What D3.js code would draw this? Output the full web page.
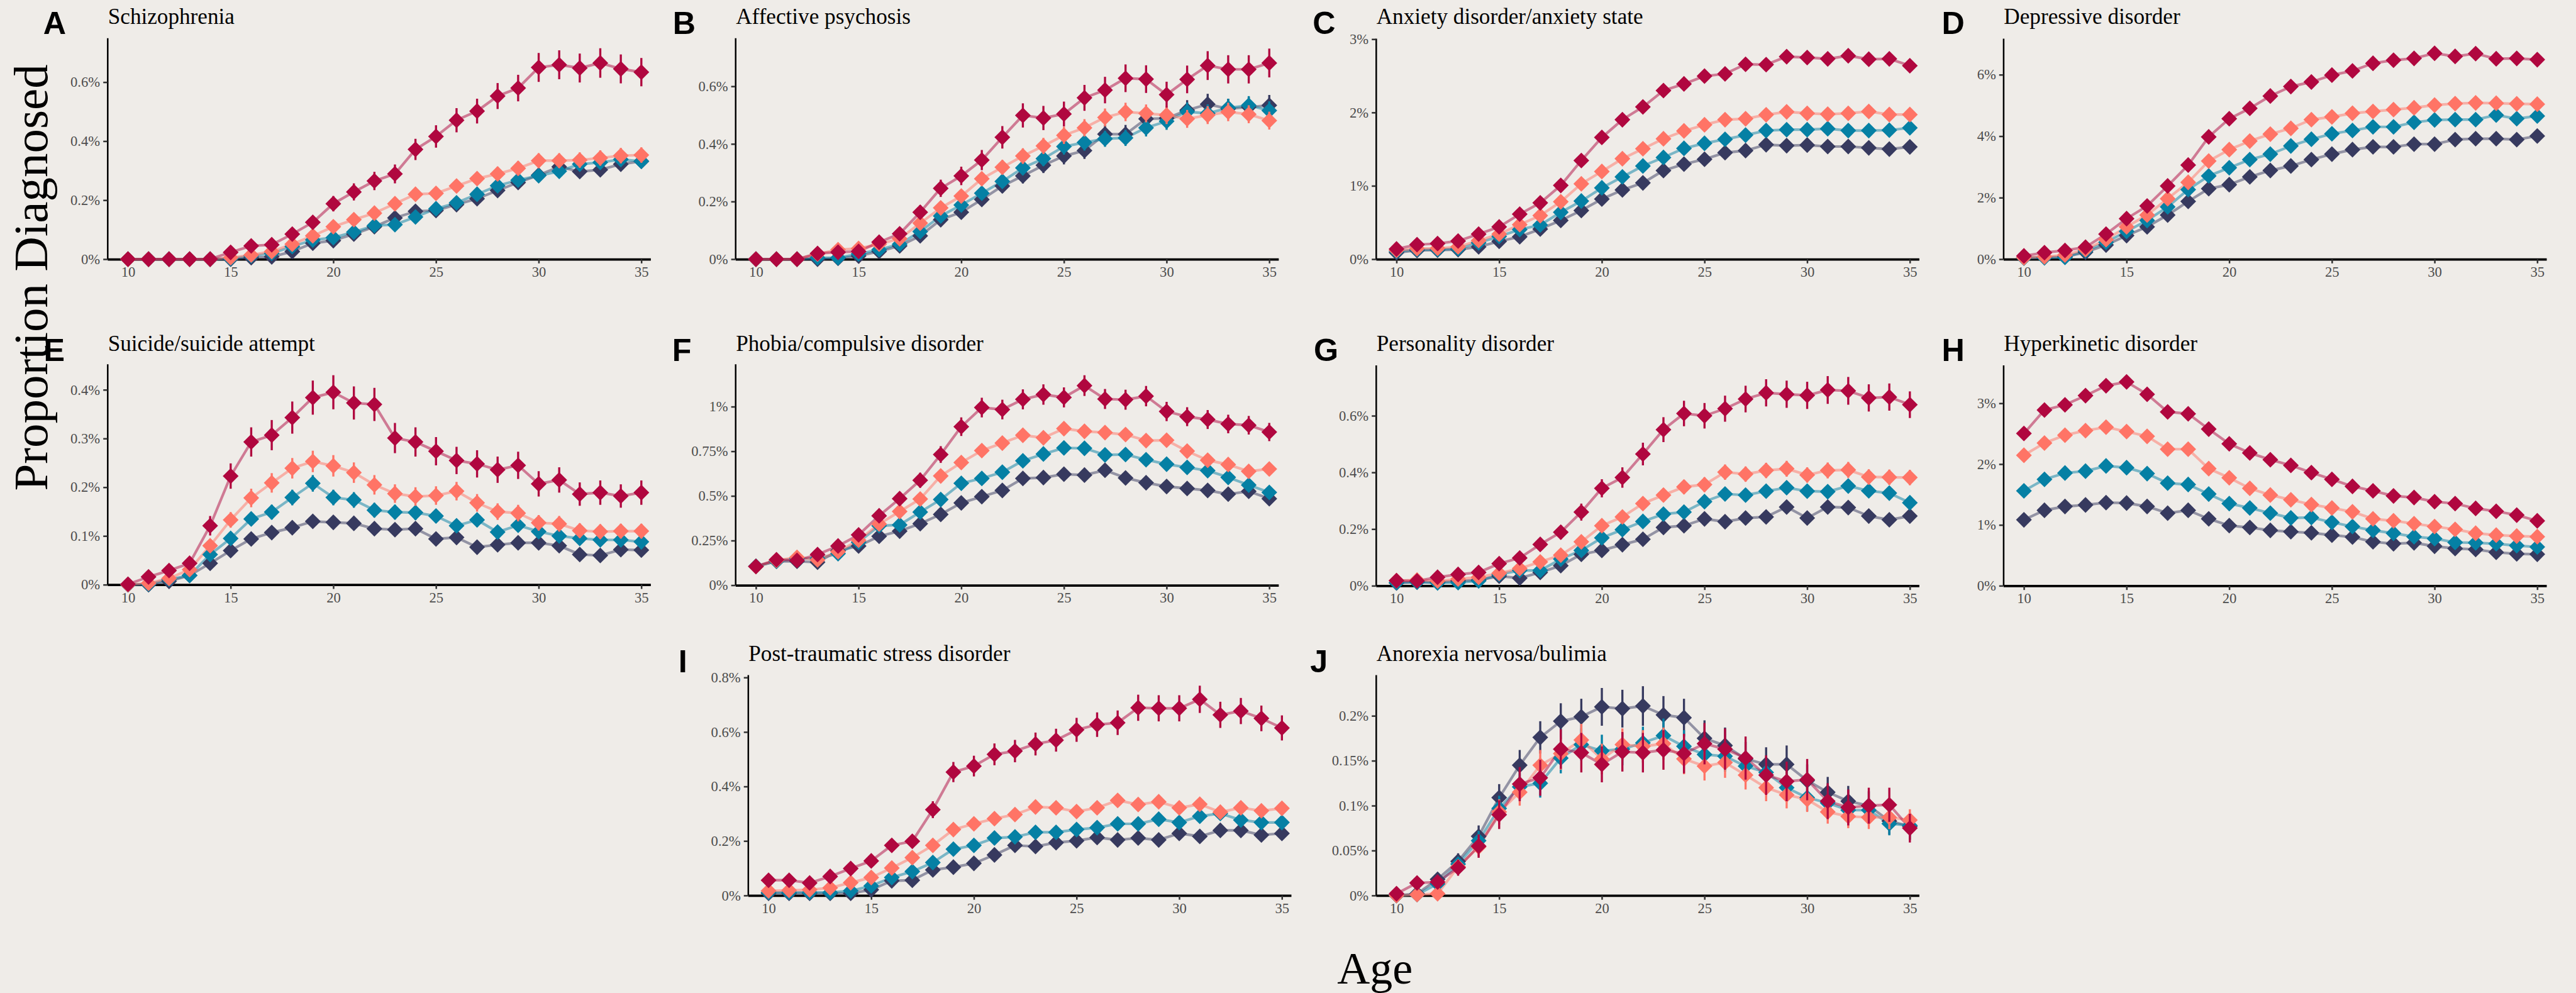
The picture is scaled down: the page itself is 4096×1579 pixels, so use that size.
<!DOCTYPE html>
<html>
<head>
<meta charset="utf-8">
<script src="https://cdnjs.cloudflare.com/ajax/libs/d3/7.8.5/d3.min.js"></script>
<style>
  body { margin: 0; background: #efece8; }
  svg { display: block; }
</style>
</head>
<body>
<svg id="chart"></svg>
<script>
// ---- data ----------------------------------------------------------------
const ages = [10, 11, 12, 13, 14, 15, 16, 17, 18, 19, 20, 21, 22, 23, 24, 25, 26, 27, 28, 29, 30, 31, 32, 33, 34, 35];
const xTicks = [10, 15, 20, 25, 30, 35];
// series order: navy, teal, salmon, crimson
const seriesColors = ['#373a5f', '#0580a4', '#ff7466', '#b0073f'];
const panelLetters = ['A', 'B', 'C', 'D', 'E', 'F', 'G', 'H', 'I', 'J'];
const panelTitles = ['Schizophrenia', 'Affective psychosis', 'Anxiety disorder/anxiety state', 'Depressive disorder',
  'Suicide/suicide attempt', 'Phobia/compulsive disorder', 'Personality disorder', 'Hyperkinetic disorder',
  'Post-traumatic stress disorder', 'Anorexia nervosa/bulimia'];

const ticksA = [0, 0.2, 0.4, 0.6];
const ticksC = [0, 1, 2, 3];
const ticksD = [0, 2, 4, 6];
const ticksE = [0, 0.1, 0.2, 0.3, 0.4];
const ticksF = [0, 0.25, 0.5, 0.75, 1];
const ticksI = [0, 0.2, 0.4, 0.6, 0.8];
const ticksJ = [0, 0.05, 0.1, 0.15, 0.2];

const valSchizophrenia = [
  [0, 0, 0, 0, 0, 0, 0.005, 0.008, 0.026, 0.054, 0.063, 0.085, 0.11, 0.14, 0.162, 0.165, 0.185, 0.205, 0.233, 0.26, 0.285, 0.313, 0.297, 0.303, 0.322, 0.332],
  [0, 0, 0, 0, 0, 0.002, 0.011, 0.02, 0.043, 0.065, 0.073, 0.092, 0.114, 0.117, 0.143, 0.171, 0.191, 0.22, 0.249, 0.268, 0.283, 0.298, 0.322, 0.328, 0.338, 0.332],
  [0, 0, 0, 0, 0, 0.005, 0.014, 0.026, 0.051, 0.079, 0.11, 0.134, 0.156, 0.188, 0.22, 0.223, 0.248, 0.273, 0.289, 0.308, 0.334, 0.334, 0.336, 0.343, 0.351, 0.353],
  [0, 0, 0, 0, 0, 0.023, 0.045, 0.049, 0.085, 0.125, 0.188, 0.228, 0.265, 0.289, 0.372, 0.416, 0.471, 0.502, 0.553, 0.58, 0.65, 0.659, 0.648, 0.665, 0.645, 0.634]
];
const errSchizophrenia = [
  null,
  null,
  [0, 0, 0, 0, 0, 0.003, 0.005, 0.007, 0.01, 0.012, 0.015, 0.016, 0.017, 0.019, 0.021, 0.021, 0.022, 0.023, 0.024, 0.024, 0.025, 0.025, 0.026, 0.026, 0.026, 0.026],
  [0, 0, 0, 0, 0, 0.009, 0.013, 0.013, 0.018, 0.021, 0.026, 0.029, 0.031, 0.032, 0.036, 0.038, 0.041, 0.042, 0.044, 0.045, 0.049, 0.049, 0.049, 0.05, 0.049, 0.048]
];

const valAffective = [
  [0, 0, 0, 0, 0.003, 0.011, 0.027, 0.046, 0.081, 0.137, 0.163, 0.207, 0.254, 0.289, 0.326, 0.358, 0.377, 0.434, 0.434, 0.487, 0.489, 0.517, 0.538, 0.522, 0.528, 0.534],
  [0, 0, 0, 0.005, 0.005, 0.018, 0.033, 0.052, 0.096, 0.15, 0.188, 0.229, 0.27, 0.317, 0.349, 0.391, 0.405, 0.418, 0.421, 0.456, 0.479, 0.512, 0.506, 0.525, 0.534, 0.516],
  [0, 0, 0, 0.018, 0.033, 0.037, 0.052, 0.071, 0.125, 0.178, 0.219, 0.279, 0.319, 0.358, 0.393, 0.43, 0.456, 0.492, 0.511, 0.506, 0.5, 0.487, 0.5, 0.511, 0.503, 0.481],
  [0, 0, 0, 0.02, 0.024, 0.027, 0.059, 0.088, 0.163, 0.246, 0.289, 0.344, 0.423, 0.499, 0.49, 0.504, 0.56, 0.587, 0.628, 0.625, 0.571, 0.624, 0.672, 0.659, 0.659, 0.681]
];
const errAffective = [
  [0, 0, 0, 0, 0, 0.005, 0.008, 0.01, 0.013, 0.017, 0.019, 0.021, 0.024, 0.026, 0.027, 0.029, 0.029, 0.032, 0.032, 0.034, 0.034, 0.035, 0.036, 0.035, 0.035, 0.036],
  [0, 0, 0, 0, 0.003, 0.006, 0.008, 0.01, 0.013, 0.017, 0.019, 0.021, 0.023, 0.025, 0.026, 0.028, 0.028, 0.028, 0.028, 0.03, 0.03, 0.032, 0.031, 0.032, 0.032, 0.032],
  [0, 0, 0, 0.006, 0.008, 0.008, 0.01, 0.012, 0.016, 0.019, 0.021, 0.024, 0.025, 0.027, 0.028, 0.03, 0.03, 0.031, 0.032, 0.031, 0.031, 0.031, 0.031, 0.032, 0.031, 0.031],
  [0.003, 0.003, 0.003, 0.009, 0.01, 0.01, 0.015, 0.018, 0.024, 0.03, 0.032, 0.035, 0.039, 0.042, 0.042, 0.043, 0.045, 0.046, 0.048, 0.048, 0.045, 0.048, 0.05, 0.049, 0.049, 0.05]
];

const valAnxiety = [
  [0.089, 0.119, 0.124, 0.131, 0.168, 0.243, 0.305, 0.411, 0.528, 0.664, 0.82, 0.944, 1.04, 1.209, 1.296, 1.362, 1.452, 1.481, 1.561, 1.548, 1.556, 1.536, 1.536, 1.518, 1.501, 1.531],
  [0.107, 0.131, 0.131, 0.144, 0.223, 0.31, 0.404, 0.466, 0.639, 0.793, 0.973, 1.122, 1.271, 1.387, 1.511, 1.58, 1.635, 1.692, 1.754, 1.766, 1.766, 1.779, 1.754, 1.754, 1.759, 1.791],
  [0.119, 0.144, 0.149, 0.168, 0.255, 0.342, 0.471, 0.594, 0.783, 1.028, 1.196, 1.37, 1.506, 1.642, 1.749, 1.833, 1.902, 1.915, 1.969, 2.009, 1.989, 1.977, 1.989, 2.014, 1.972, 1.972],
  [0.139, 0.198, 0.213, 0.248, 0.342, 0.441, 0.614, 0.768, 1.006, 1.345, 1.66, 1.902, 2.076, 2.299, 2.39, 2.497, 2.527, 2.658, 2.653, 2.762, 2.75, 2.732, 2.774, 2.727, 2.732, 2.638]
];

const valDepressive = [
  [0.047, 0.059, 0.077, 0.225, 0.461, 0.768, 1.052, 1.436, 1.88, 2.294, 2.424, 2.678, 2.885, 3.032, 3.239, 3.417, 3.564, 3.653, 3.653, 3.742, 3.742, 3.89, 3.919, 3.919, 3.89, 4.008],
  [0.035, 0.047, 0.059, 0.272, 0.55, 0.904, 1.259, 1.702, 2.264, 2.707, 2.973, 3.239, 3.417, 3.683, 3.901, 4.079, 4.185, 4.303, 4.303, 4.451, 4.528, 4.54, 4.54, 4.688, 4.569, 4.658],
  [0.047, 0.077, 0.136, 0.313, 0.638, 1.052, 1.436, 1.968, 2.5, 3.192, 3.564, 3.842, 4.067, 4.256, 4.54, 4.629, 4.747, 4.806, 4.865, 4.924, 5.013, 5.06, 5.084, 5.072, 5.054, 5.042],
  [0.106, 0.213, 0.284, 0.39, 0.816, 1.318, 1.732, 2.382, 3.062, 3.978, 4.569, 4.906, 5.308, 5.616, 5.764, 5.988, 6.124, 6.372, 6.473, 6.532, 6.697, 6.597, 6.686, 6.52, 6.532, 6.49]
];

const valSuicide = [
  [0, 0, 0.007, 0.019, 0.044, 0.07, 0.094, 0.107, 0.117, 0.13, 0.128, 0.126, 0.115, 0.113, 0.115, 0.094, 0.097, 0.077, 0.082, 0.086, 0.086, 0.08, 0.062, 0.06, 0.072, 0.071],
  [0, 0.001, 0.011, 0.019, 0.062, 0.095, 0.135, 0.149, 0.179, 0.208, 0.179, 0.174, 0.153, 0.149, 0.148, 0.141, 0.121, 0.133, 0.108, 0.122, 0.109, 0.1, 0.095, 0.092, 0.092, 0.088],
  [0, 0.003, 0.013, 0.031, 0.08, 0.133, 0.178, 0.209, 0.239, 0.253, 0.244, 0.23, 0.205, 0.187, 0.181, 0.183, 0.192, 0.168, 0.15, 0.147, 0.127, 0.125, 0.111, 0.109, 0.11, 0.11],
  [0.001, 0.016, 0.029, 0.044, 0.121, 0.223, 0.293, 0.307, 0.343, 0.384, 0.395, 0.373, 0.37, 0.301, 0.293, 0.274, 0.255, 0.248, 0.236, 0.245, 0.207, 0.215, 0.186, 0.189, 0.182, 0.189]
];
const errSuicide = [
  null,
  [0, 0.001, 0.004, 0.006, 0.01, 0.012, 0.014, 0.015, 0.016, 0.017, 0.016, 0.016, 0.015, 0.015, 0.015, 0.014, 0.013, 0.014, 0.013, 0.013, 0.013, 0.012, 0.012, 0.012, 0.012, 0.012],
  [0, 0.002, 0.005, 0.008, 0.012, 0.016, 0.019, 0.02, 0.021, 0.022, 0.022, 0.021, 0.02, 0.019, 0.019, 0.019, 0.019, 0.018, 0.017, 0.017, 0.016, 0.016, 0.015, 0.015, 0.015, 0.015],
  [0.004, 0.007, 0.01, 0.012, 0.02, 0.026, 0.03, 0.031, 0.033, 0.035, 0.035, 0.034, 0.034, 0.031, 0.03, 0.029, 0.028, 0.028, 0.027, 0.028, 0.026, 0.026, 0.024, 0.025, 0.024, 0.025]
];

const valPhobia = [
  [0.105, 0.134, 0.134, 0.129, 0.193, 0.22, 0.274, 0.303, 0.345, 0.397, 0.461, 0.496, 0.531, 0.598, 0.603, 0.622, 0.617, 0.644, 0.601, 0.574, 0.553, 0.542, 0.531, 0.51, 0.526, 0.485],
  [0.107, 0.134, 0.15, 0.15, 0.177, 0.241, 0.333, 0.338, 0.41, 0.48, 0.571, 0.598, 0.633, 0.697, 0.735, 0.769, 0.767, 0.73, 0.732, 0.703, 0.678, 0.66, 0.642, 0.604, 0.561, 0.52],
  [0.105, 0.139, 0.156, 0.142, 0.188, 0.252, 0.343, 0.413, 0.483, 0.612, 0.687, 0.754, 0.796, 0.84, 0.826, 0.877, 0.862, 0.855, 0.844, 0.81, 0.812, 0.751, 0.7, 0.676, 0.638, 0.651],
  [0.105, 0.143, 0.139, 0.172, 0.22, 0.282, 0.389, 0.485, 0.588, 0.732, 0.888, 0.995, 0.984, 1.041, 1.068, 1.052, 1.118, 1.043, 1.039, 1.059, 0.973, 0.944, 0.928, 0.903, 0.896, 0.858]
];
const errPhobia = [
  null,
  null,
  null,
  [0.018, 0.021, 0.021, 0.023, 0.026, 0.029, 0.034, 0.038, 0.042, 0.047, 0.052, 0.055, 0.055, 0.056, 0.057, 0.056, 0.058, 0.056, 0.056, 0.057, 0.054, 0.053, 0.053, 0.052, 0.052, 0.051]
];

const valPersonality = [
  [0.01, 0.013, 0.013, 0.017, 0.02, 0.034, 0.027, 0.047, 0.071, 0.111, 0.125, 0.145, 0.164, 0.206, 0.212, 0.236, 0.226, 0.239, 0.243, 0.278, 0.239, 0.278, 0.276, 0.246, 0.233, 0.246],
  [0.011, 0.013, 0.01, 0.011, 0.017, 0.04, 0.054, 0.054, 0.094, 0.125, 0.169, 0.198, 0.227, 0.253, 0.26, 0.297, 0.324, 0.32, 0.334, 0.346, 0.334, 0.332, 0.352, 0.335, 0.327, 0.293],
  [0.018, 0.02, 0.017, 0.024, 0.03, 0.044, 0.061, 0.084, 0.108, 0.155, 0.212, 0.243, 0.29, 0.32, 0.349, 0.357, 0.401, 0.394, 0.407, 0.413, 0.391, 0.407, 0.409, 0.384, 0.383, 0.382],
  [0.018, 0.017, 0.03, 0.04, 0.047, 0.078, 0.098, 0.146, 0.189, 0.26, 0.344, 0.382, 0.465, 0.551, 0.608, 0.6, 0.625, 0.659, 0.681, 0.676, 0.672, 0.691, 0.688, 0.663, 0.666, 0.639]
];
const errPersonality = [
  null,
  null,
  [0.005, 0.005, 0.005, 0.006, 0.007, 0.009, 0.011, 0.012, 0.014, 0.017, 0.019, 0.021, 0.023, 0.024, 0.025, 0.026, 0.027, 0.027, 0.027, 0.028, 0.027, 0.028, 0.028, 0.027, 0.027, 0.027],
  [0.008, 0.008, 0.01, 0.012, 0.013, 0.016, 0.018, 0.022, 0.025, 0.03, 0.032, 0.036, 0.04, 0.044, 0.045, 0.045, 0.046, 0.047, 0.048, 0.048, 0.048, 0.049, 0.049, 0.048, 0.048, 0.047]
];

const valHyperkinetic = [
  [1.084, 1.241, 1.304, 1.329, 1.367, 1.36, 1.304, 1.194, 1.241, 1.1, 0.99, 0.958, 0.911, 0.889, 0.87, 0.833, 0.801, 0.723, 0.691, 0.707, 0.65, 0.613, 0.597, 0.55, 0.525, 0.518],
  [1.561, 1.75, 1.854, 1.885, 1.97, 1.942, 1.844, 1.687, 1.665, 1.508, 1.351, 1.279, 1.194, 1.115, 1.122, 1.043, 0.974, 0.911, 0.864, 0.807, 0.776, 0.713, 0.707, 0.691, 0.66, 0.638],
  [2.146, 2.347, 2.476, 2.551, 2.608, 2.535, 2.457, 2.246, 2.246, 1.926, 1.775, 1.602, 1.492, 1.414, 1.335, 1.279, 1.216, 1.1, 1.068, 1.021, 0.974, 0.927, 0.864, 0.833, 0.817, 0.807],
  [2.504, 2.89, 2.975, 3.126, 3.289, 3.352, 3.148, 2.859, 2.828, 2.576, 2.334, 2.184, 2.073, 1.979, 1.86, 1.75, 1.634, 1.561, 1.477, 1.451, 1.382, 1.351, 1.272, 1.225, 1.162, 1.068]
];

const valPtsd = [
  [0.008, 0.008, 0.008, 0.008, 0.008, 0.021, 0.054, 0.056, 0.094, 0.104, 0.118, 0.149, 0.184, 0.18, 0.194, 0.201, 0.213, 0.204, 0.211, 0.204, 0.228, 0.217, 0.239, 0.239, 0.222, 0.228],
  [0.011, 0.011, 0.011, 0.011, 0.017, 0.035, 0.066, 0.088, 0.121, 0.17, 0.184, 0.211, 0.215, 0.232, 0.232, 0.242, 0.249, 0.263, 0.263, 0.28, 0.268, 0.291, 0.301, 0.277, 0.268, 0.268],
  [0.017, 0.019, 0.021, 0.028, 0.047, 0.066, 0.101, 0.139, 0.184, 0.242, 0.263, 0.282, 0.297, 0.325, 0.322, 0.308, 0.322, 0.349, 0.334, 0.344, 0.322, 0.335, 0.306, 0.322, 0.311, 0.32],
  [0.056, 0.056, 0.046, 0.07, 0.099, 0.127, 0.184, 0.199, 0.315, 0.453, 0.475, 0.518, 0.53, 0.556, 0.57, 0.608, 0.627, 0.634, 0.689, 0.687, 0.687, 0.72, 0.663, 0.677, 0.65, 0.615]
];
const errPtsd = [
  null,
  null,
  [0.005, 0.005, 0.005, 0.006, 0.008, 0.009, 0.011, 0.013, 0.015, 0.017, 0.018, 0.018, 0.019, 0.02, 0.02, 0.02, 0.02, 0.021, 0.021, 0.021, 0.021, 0.021, 0.02, 0.021, 0.021, 0.021],
  [0.013, 0.013, 0.012, 0.015, 0.018, 0.02, 0.024, 0.025, 0.031, 0.037, 0.038, 0.04, 0.041, 0.042, 0.042, 0.044, 0.045, 0.045, 0.048, 0.048, 0.048, 0.05, 0.048, 0.048, 0.047, 0.046]
];

const valAnorexia = [
  [0, 0.002, 0.018, 0.038, 0.066, 0.109, 0.145, 0.176, 0.194, 0.199, 0.21, 0.208, 0.211, 0.201, 0.198, 0.175, 0.167, 0.152, 0.146, 0.146, 0.128, 0.115, 0.105, 0.1, 0.083, 0.077],
  [0, 0.001, 0.013, 0.035, 0.061, 0.097, 0.121, 0.125, 0.153, 0.168, 0.161, 0.163, 0.17, 0.178, 0.166, 0.157, 0.155, 0.144, 0.137, 0.12, 0.109, 0.103, 0.095, 0.095, 0.08, 0.078],
  [0, 0.001, 0.002, 0.032, 0.054, 0.093, 0.115, 0.145, 0.158, 0.173, 0.152, 0.168, 0.166, 0.169, 0.152, 0.144, 0.148, 0.134, 0.12, 0.112, 0.107, 0.093, 0.088, 0.087, 0.087, 0.084],
  [0.002, 0.014, 0.015, 0.031, 0.055, 0.09, 0.124, 0.131, 0.163, 0.159, 0.146, 0.16, 0.159, 0.162, 0.158, 0.169, 0.163, 0.153, 0.134, 0.127, 0.129, 0.105, 0.098, 0.1, 0.101, 0.075]
];
const errAnorexia = [
  [0, 0.002, 0.006, 0.009, 0.012, 0.015, 0.017, 0.018, 0.02, 0.02, 0.021, 0.021, 0.022, 0.021, 0.021, 0.02, 0.02, 0.019, 0.019, 0.021, 0.018, 0.017, 0.017, 0.016, 0.015, 0.015],
  [0, 0.001, 0.005, 0.008, 0.011, 0.014, 0.015, 0.016, 0.017, 0.018, 0.018, 0.018, 0.018, 0.019, 0.018, 0.017, 0.017, 0.016, 0.016, 0.015, 0.015, 0.014, 0.013, 0.013, 0.013, 0.012],
  [0, 0.001, 0.002, 0.008, 0.01, 0.014, 0.015, 0.017, 0.018, 0.018, 0.017, 0.018, 0.018, 0.018, 0.017, 0.016, 0.017, 0.016, 0.015, 0.015, 0.014, 0.013, 0.013, 0.013, 0.013, 0.012],
  [0.002, 0.006, 0.006, 0.009, 0.013, 0.016, 0.019, 0.02, 0.022, 0.022, 0.02, 0.022, 0.022, 0.022, 0.022, 0.023, 0.023, 0.024, 0.022, 0.022, 0.023, 0.02, 0.02, 0.02, 0.019, 0.016]
];

// ---- layout (reference pixel units, scaled down as a whole) --------------
const W = 4096, H = 1579;
const s = W / 4890;
const plotW = 1031;
const rows = [
  { letterY: 65, titleY: 45 },
  { letterY: 685, titleY: 666 },
  { letterY: 1276, titleY: 1255 }
];
const panels = [
  { vals: valSchizophrenia, errs: errSchizophrenia, ticks: ticksA, yMax: 0.75, left: 204, top: 72, bottom: 492, row: 0, letterX: 82 },
  { vals: valAffective, errs: errAffective, ticks: ticksA, yMax: 0.768, left: 1396, top: 72, bottom: 492, row: 0, letterX: 1277 },
  { vals: valAnxiety, errs: null, ticks: ticksC, yMax: 3.01, left: 2612, top: 73, bottom: 492, row: 0, letterX: 2492 },
  { vals: valDepressive, errs: null, ticks: ticksD, yMax: 7.18, left: 3803, top: 73, bottom: 492, row: 0, letterX: 3686 },
  { vals: valSuicide, errs: errSuicide, ticks: ticksE, yMax: 0.453, left: 204, top: 691, bottom: 1110, row: 1, letterX: 83 },
  { vals: valPhobia, errs: errPhobia, ticks: ticksF, yMax: 1.239, left: 1396, top: 691, bottom: 1111, row: 1, letterX: 1276 },
  { vals: valPersonality, errs: errPersonality, ticks: ticksA, yMax: 0.779, left: 2612, top: 693, bottom: 1112, row: 1, letterX: 2494 },
  { vals: valHyperkinetic, errs: null, ticks: ticksC, yMax: 3.629, left: 3803, top: 693, bottom: 1112, row: 1, letterX: 3686 },
  { vals: valPtsd, errs: errPtsd, ticks: ticksI, yMax: 0.81, left: 1420, top: 1281, bottom: 1700, row: 2, letterX: 1288 },
  { vals: valAnorexia, errs: errAnorexia, ticks: ticksJ, yMax: 0.2457, left: 2612, top: 1281, bottom: 1700, row: 2, letterX: 2487 }
];

const svg = d3.select('#chart').attr('width', W).attr('height', H);
svg.append('rect').attr('width', W).attr('height', H).attr('fill', '#efece8');
const root = svg.append('g').attr('transform', `scale(${s})`);

const serif = "'Liberation Serif', 'Times New Roman', serif";
const sans = "'Liberation Sans', Arial, sans-serif";
const half = 15; // diamond half-diagonal

panels.forEach((p, pi) => {
  const x = d3.scaleLinear().domain([9, 35.45]).range([p.left, p.left + plotW]);
  const y = d3.scaleLinear().domain([0, p.yMax]).range([p.bottom, p.top]);
  const g = root.append('g');

  // letter & title
  g.append('text')
    .attr('x', p.letterX)
    .attr('y', rows[p.row].letterY)
    .attr('font-family', sans)
    .attr('font-weight', 'bold')
    .attr('font-size', 60)
    .text(panelLetters[pi]);
  g.append('text')
    .attr('x', p.left + 1)
    .attr('y', rows[p.row].titleY)
    .attr('font-family', serif)
    .attr('font-size', 42)
    .text(panelTitles[pi]);

  // axes
  const xAxis = g.append('g')
    .attr('transform', `translate(0,${p.bottom})`)
    .call(d3.axisBottom(x).tickValues(xTicks).tickFormat(d3.format('d')).tickSize(8).tickSizeOuter(0).tickPadding(6));
  const yAxis = g.append('g')
    .attr('transform', `translate(${p.left},0)`)
    .call(d3.axisLeft(y).tickValues(p.ticks).tickFormat(d => d + '%').tickSize(8).tickSizeOuter(0).tickPadding(6));
  [xAxis, yAxis].forEach(ax => {
    ax.attr('font-family', serif).attr('font-size', 27);
    ax.selectAll('.tick line').attr('stroke', '#333').attr('stroke-width', 3);
    ax.selectAll('.tick text').attr('fill', '#4d4d4d');
  });
  xAxis.select('.domain').attr('stroke', '#000').attr('stroke-width', 4.5);
  yAxis.select('.domain').attr('stroke', '#000').attr('stroke-width', 3);

  // lines
  const line = d3.line().x((d, i) => x(ages[i])).y(d => y(d));
  p.vals.forEach((vals, si) => {
    g.append('path')
      .attr('d', line(vals))
      .attr('fill', 'none')
      .attr('stroke', seriesColors[si])
      .attr('stroke-opacity', 0.5)
      .attr('stroke-width', 5)
      .attr('stroke-linejoin', 'round');
  });

  // error bars + points, series by series
  p.vals.forEach((vals, si) => {
    const errs = p.errs ? p.errs[si] : null;
    if (errs) {
      g.append('g').selectAll('line')
        .data(vals)
        .enter()
        .append('line')
        .attr('x1', (d, i) => x(ages[i]))
        .attr('x2', (d, i) => x(ages[i]))
        .attr('y1', (d, i) => y(Math.max(0, d - errs[i])))
        .attr('y2', (d, i) => y(d + errs[i]))
        .attr('stroke', seriesColors[si])
        .attr('stroke-width', 4);
    }
    g.append('g').selectAll('path')
      .data(vals)
      .enter()
      .append('path')
      .attr('d', `M0,${-half}L${half},0L0,${half}L${-half},0Z`)
      .attr('transform', (d, i) => `translate(${x(ages[i])},${y(d)})`)
      .attr('fill', seriesColors[si]);
  });
});

// shared axis titles
root.append('text')
  .attr('transform', 'translate(90,527) rotate(-90)')
  .attr('text-anchor', 'middle')
  .attr('font-family', serif)
  .attr('font-size', 92)
  .text('Proportion Diagnosed');
root.append('text')
  .attr('x', 2610)
  .attr('y', 1867)
  .attr('text-anchor', 'middle')
  .attr('font-family', serif)
  .attr('font-size', 86)
  .text('Age');
</script>
</body>
</html>
